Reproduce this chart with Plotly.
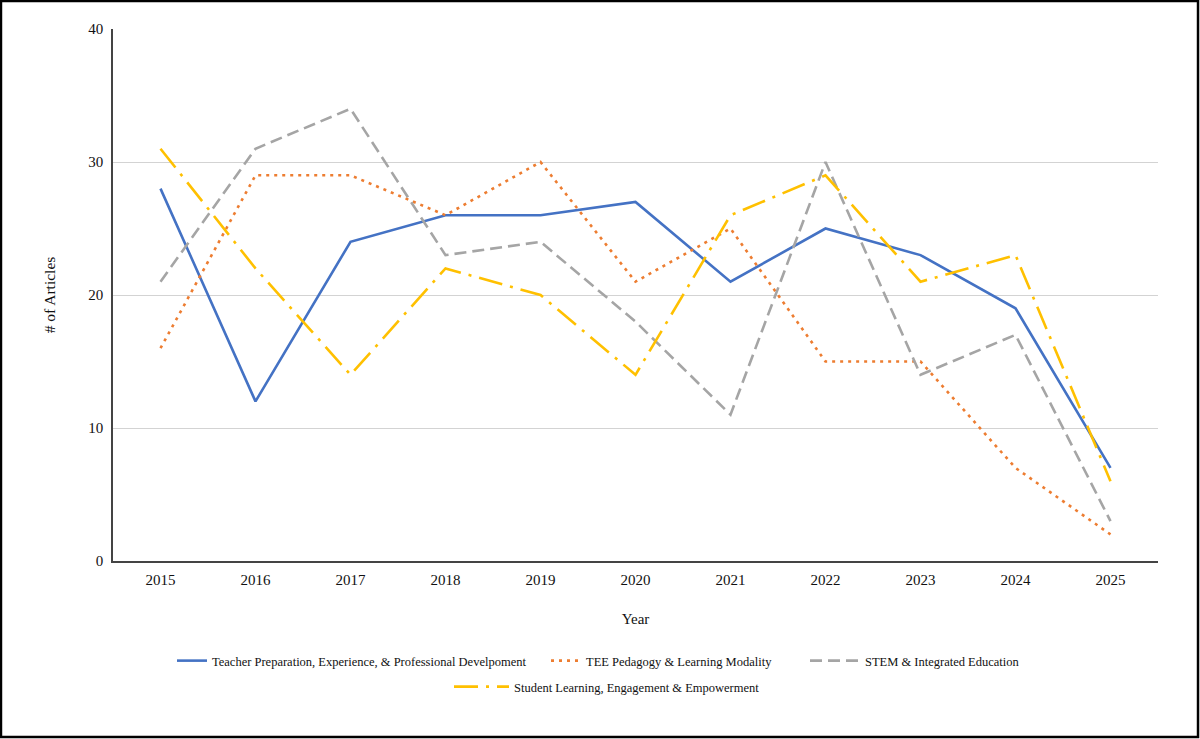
import plotly.graph_objects as go

years = ["2015", "2016", "2017", "2018", "2019", "2020", "2021", "2022", "2023", "2024", "2025"]
teacher = [28, 12, 24, 26, 26, 27, 21, 25, 23, 19, 7]
tee = [16, 29, 29, 26, 30, 21, 25, 15, 15, 7, 2]
stem = [21, 31, 34, 23, 24, 18, 11, 30, 14, 17, 3]
student = [31, 22, 14, 22, 20, 14, 26, 29, 21, 23, 6]

names = [
    "Teacher Preparation, Experience, & Professional Develpoment",
    "TEE Pedagogy & Learning Modality",
    "STEM & Integrated Education",
    "Student Learning, Engagement & Empowerment",
]

FONT = "Liberation Serif"
TXT = "#111111"

fig = go.Figure()
fig.add_trace(go.Scatter(x=years, y=teacher, name=names[0], mode="lines",
                         line=dict(color="#4472C4", width=2.6, dash="solid"), legend="legend"))
fig.add_trace(go.Scatter(x=years, y=tee, name=names[1], mode="lines",
                         line=dict(color="#ED7D31", width=2.6, dash="3px,5px"), legend="legend2"))
fig.add_trace(go.Scatter(x=years, y=stem, name=names[2], mode="lines",
                         line=dict(color="#A5A5A5", width=2.6, dash="12px,6px"), legend="legend3"))
fig.add_trace(go.Scatter(x=years, y=student, name=names[3], mode="lines",
                         line=dict(color="#FFC000", width=2.6, dash="24px,8px,3px,8px"), legend="legend4"))


def px_x(p):
    return (p - 113) / 1045.0


def px_y(p):
    return (561 - p) / 532.0


def leg(x_px, y_px, w):
    return dict(
        orientation="h", x=px_x(x_px), xanchor="left", y=px_y(y_px), yanchor="middle",
        font=dict(family=FONT, size=12.5, color=TXT),
        bgcolor="rgba(0,0,0,0)", itemwidth=w,
    )


fig.update_layout(
    width=1200, height=739,
    paper_bgcolor="white", plot_bgcolor="white",
    margin=dict(l=113, r=42, t=29, b=178),
    font=dict(family=FONT, size=15, color=TXT),
    xaxis=dict(
        type="category", range=[-0.5, 10.5],
        showgrid=False,
        showline=True, linecolor="#444444", linewidth=1.5,
        ticks="", tickfont=dict(size=15, color=TXT), ticklabelstandoff=4,
        title=dict(text="Year", font=dict(size=15, color=TXT), standoff=27),
    ),
    yaxis=dict(
        range=[0, 40], tickvals=[0, 10, 20, 30, 40],
        showgrid=True, gridcolor="#D3D3D3", gridwidth=1,
        showline=True, linecolor="#444444", linewidth=1.5,
        zeroline=False, ticks="", tickfont=dict(size=15, color=TXT), ticklabelstandoff=5,
        title=dict(text="# of Articles", font=dict(size=15.5, color=TXT), standoff=29),
    ),
    legend=leg(172, 661, 30),
    legend2=leg(546, 661, 30),
    legend3=leg(805, 661, 50),
    legend4=leg(449, 687, 55),
    showlegend=True,
    shapes=[dict(
        type="rect", xref="paper", yref="paper",
        x0=-0.1072, x1=1.0383, y0=-0.3308, y1=1.0526,
        line=dict(color="black", width=2.5), fillcolor="rgba(0,0,0,0)", layer="above",
    )],
)

fig.write_html(
    "out.html",
    config={"displayModeBar": False},
    post_script="document.body.style.margin='0';document.body.style.overflow='hidden';"
                "document.documentElement.style.overflow='hidden';",
)
